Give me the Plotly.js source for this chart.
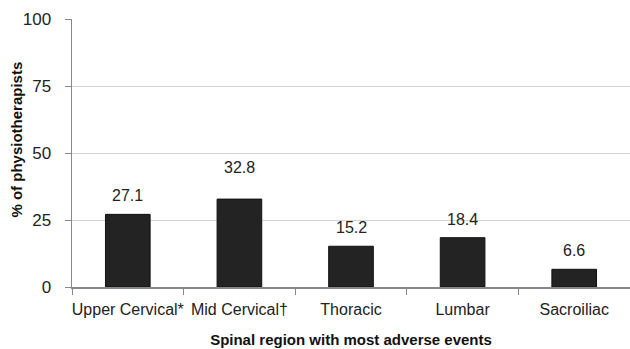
<!DOCTYPE html>
<html><head><meta charset="utf-8">
<script src="https://cdn.plot.ly/plotly-3.0.1.min.js"></script>
<style>html,body{margin:0;padding:0;background:#fff}#chart{width:630px;height:349px}</style>
</head><body><div id="chart"></div>
<script>
const categories = ["Upper Cervical*", "Mid Cervical\u2020", "Thoracic", "Lumbar", "Sacroiliac"];
const values = [27.1, 32.8, 15.2, 18.4, 6.6];
const valueLabels = ["27.1", "32.8", "15.2", "18.4", "6.6"];
const labelShift = [15, 28, 15, 15, 15];

const font = "Liberation Sans, Arial, sans-serif";
const trace = {
  type: "bar", x: categories, y: values,
  marker: {color: "#232323", line: {color: "#111", width: 1}},
  hoverinfo: "none"
};
const annotations = categories.map((c, i) => ({
  x: c, y: values[i], text: valueLabels[i], showarrow: false,
  yanchor: "bottom", yshift: labelShift[i] - 7,
  font: {family: font, size: 16, color: "#222"}
}));
annotations.push({
  xref: "paper", yref: "paper", x: 0, y: 0.55, xshift: -55,
  xanchor: "center", yanchor: "middle", textangle: -90, showarrow: false,
  text: "<b>% of physiotherapists</b>",
  font: {family: font, size: 15, color: "#111"}
});
const layout = {
  width: 630, height: 349,
  margin: {l: 72, r: 0, t: 19, b: 62},
  paper_bgcolor: "#fff", plot_bgcolor: "#fff",
  bargap: 0.6, showlegend: false,
  font: {family: font, size: 16, color: "#222"},
  xaxis: {
    type: "category", showline: true, linecolor: "#888", linewidth: 1.5,
    ticks: "outside", tickson: "boundaries", ticklen: 6, tickcolor: "#888",
    ticklabelstandoff: 7, tickangle: 0, automargin: false,
    tickfont: {family: font, size: 16, color: "#222"},
    title: {text: "<b>Spinal region with most adverse events</b>", font: {family: font, size: 15, color: "#111"}, standoff: 18}
  },
  yaxis: {
    range: [0, 100], tickvals: [0, 25, 50, 75, 100], ticktext: ["0", "25", "50", "75", "100"],
    showline: true, linecolor: "#888", linewidth: 1.5, automargin: false,
    ticks: "outside", ticklen: 6, tickcolor: "#888",
    ticklabelstandoff: 10,
    showgrid: true, gridcolor: "#d4d4d4", gridwidth: 1, zeroline: false,
    tickfont: {family: font, size: 17, color: "#222"}
  },
  annotations: annotations
};
Plotly.newPlot("chart", [trace], layout, {staticPlot: true, displayModeBar: false});
</script></body></html>
